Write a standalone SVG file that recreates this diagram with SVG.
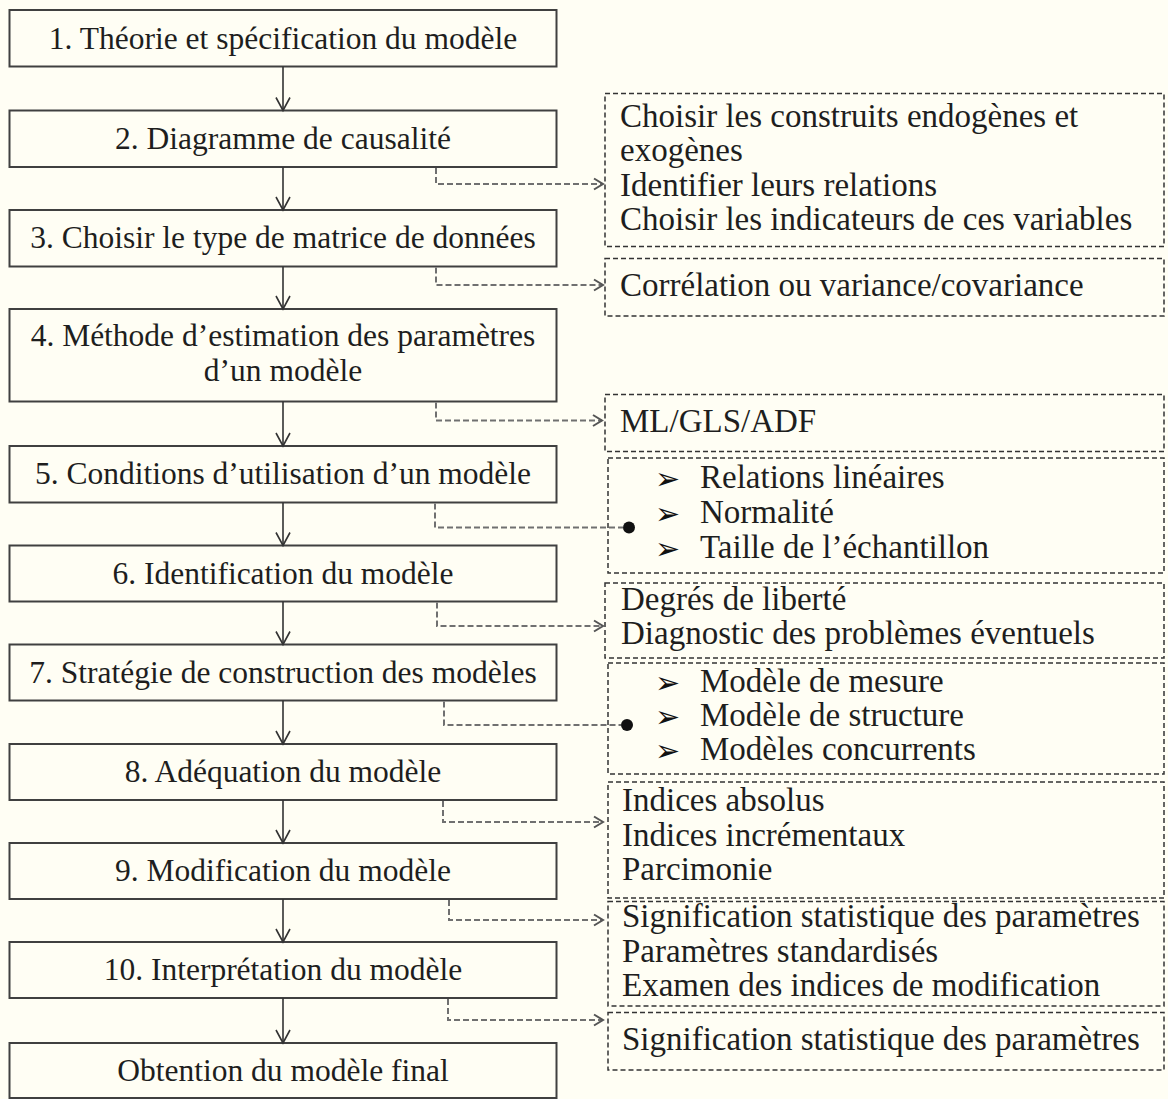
<svg xmlns="http://www.w3.org/2000/svg" width="1168" height="1099" viewBox="0 0 1168 1099">
<style>
.bg{fill:#FFFEF4}
.box rect{fill:#FFFEF4;stroke:#404040;stroke-width:2}
.note rect{fill:#FFFEF4;stroke:#333;stroke-width:1.5;stroke-dasharray:5 3}
.lt{font-family:"Liberation Serif","Times New Roman",serif;font-size:31.5px;fill:#1e1e1e;text-anchor:middle}
.rt{font-family:"Liberation Serif","Times New Roman",serif;font-size:33px;fill:#1e1e1e}
.bul{font-family:"DejaVu Sans",sans-serif;font-size:30px;fill:#111}
.solid{fill:none;stroke:#333;stroke-width:1.6;marker-end:url(#vhead)}
.dash{fill:none;stroke:#707070;stroke-width:2;stroke-dasharray:6 3}
.dasharrow{marker-end:url(#dhead)}
.dot{fill:#111}
</style>
<defs>
<marker id="vhead" markerUnits="userSpaceOnUse" orient="auto" refX="0" refY="0" markerWidth="30" markerHeight="30" overflow="visible">
<path d="M-13,-7 L0,0 L-13,7" fill="none" stroke="#333" stroke-width="1.6"/>
</marker>
<marker id="dhead" markerUnits="userSpaceOnUse" orient="auto" refX="0" refY="0" markerWidth="30" markerHeight="30" overflow="visible">
<path d="M-9,-5.5 L0,0 L-9,5.5" fill="none" stroke="#555" stroke-width="2"/>
</marker>
</defs>
<rect class="bg" x="0" y="0" width="1168" height="1099"/>

<g id="step1" class="box"><rect x="9.5" y="10" width="547" height="56.5"/><text class="lt" x="283" y="48.5">1. Théorie et spécification du modèle</text></g>
<g id="step2" class="box"><rect x="9.5" y="110.5" width="547" height="56.5"/><text class="lt" x="283" y="148.5">2. Diagramme de causalité</text></g>
<g id="step3" class="box"><rect x="9.5" y="210" width="547" height="56.5"/><text class="lt" x="283" y="248">3. Choisir le type de matrice de données</text></g>
<g id="step4" class="box"><rect x="9.5" y="309" width="547" height="92.5"/><text class="lt" x="283" y="346">4. Méthode d’estimation des paramètres</text><text class="lt" x="283" y="381">d’un modèle</text></g>
<g id="step5" class="box"><rect x="9.5" y="446" width="547" height="56.5"/><text class="lt" x="283" y="484">5. Conditions d’utilisation d’un modèle</text></g>
<g id="step6" class="box"><rect x="9.5" y="545.5" width="547" height="56"/><text class="lt" x="283" y="583.5">6. Identification du modèle</text></g>
<g id="step7" class="box"><rect x="9.5" y="644.5" width="547" height="56"/><text class="lt" x="283" y="682.5">7. Stratégie de construction des modèles</text></g>
<g id="step8" class="box"><rect x="9.5" y="744" width="547" height="56"/><text class="lt" x="283" y="782">8. Adéquation du modèle</text></g>
<g id="step9" class="box"><rect x="9.5" y="843" width="547" height="56"/><text class="lt" x="283" y="881">9. Modification du modèle</text></g>
<g id="step10" class="box"><rect x="9.5" y="942" width="547" height="56"/><text class="lt" x="283" y="980">10. Interprétation du modèle</text></g>
<g id="final" class="box"><rect x="9.5" y="1043" width="547" height="55"/><text class="lt" x="283" y="1081">Obtention du modèle final</text></g>

<g id="noteA" class="note"><rect x="605" y="93.5" width="559" height="153"/>
<text class="rt" x="620" y="126.5">Choisir les construits endogènes et</text>
<text class="rt" x="620" y="161">exogènes</text>
<text class="rt" x="620" y="195.5">Identifier leurs relations</text>
<text class="rt" x="620" y="230">Choisir les indicateurs de ces variables</text></g>
<g id="noteB" class="note"><rect x="605" y="258.5" width="559" height="57.5"/>
<text class="rt" x="620" y="296">Corrélation ou variance/covariance</text></g>
<g id="noteC" class="note"><rect x="605" y="394.5" width="559" height="57"/>
<text class="rt" x="620" y="432">ML/GLS/ADF</text></g>
<g id="noteD" class="note"><rect x="608" y="458" width="556" height="115"/>
<text class="bul" x="655" y="489">➢</text><text class="rt" x="700" y="488">Relations linéaires</text>
<text class="bul" x="655" y="524">➢</text><text class="rt" x="700" y="523">Normalité</text>
<text class="bul" x="655" y="559">➢</text><text class="rt" x="700" y="558">Taille de l’échantillon</text></g>
<g id="noteE" class="note"><rect x="605" y="583" width="559" height="75"/>
<text class="rt" x="621" y="610">Degrés de liberté</text>
<text class="rt" x="621" y="644">Diagnostic des problèmes éventuels</text></g>
<g id="noteF" class="note"><rect x="608" y="663" width="556" height="111"/>
<text class="bul" x="655" y="693">➢</text><text class="rt" x="700" y="692">Modèle de mesure</text>
<text class="bul" x="655" y="727">➢</text><text class="rt" x="700" y="726">Modèle de structure</text>
<text class="bul" x="655" y="761">➢</text><text class="rt" x="700" y="760">Modèles concurrents</text></g>
<g id="noteG" class="note"><rect x="608" y="782" width="556" height="116"/>
<text class="rt" x="622" y="811">Indices absolus</text>
<text class="rt" x="622" y="846">Indices incrémentaux</text>
<text class="rt" x="622" y="880">Parcimonie</text></g>
<g id="noteH" class="note"><rect x="608" y="901.5" width="556" height="104.5"/>
<text class="rt" x="622" y="927">Signification statistique des paramètres</text>
<text class="rt" x="622" y="961.5">Paramètres standardisés</text>
<text class="rt" x="622" y="996">Examen des indices de modification</text></g>
<g id="noteI" class="note"><rect x="608" y="1012.5" width="556" height="57.5"/>
<text class="rt" x="622" y="1050">Signification statistique des paramètres</text></g>

<g id="connectors">
<path class="solid" d="M283 66.5 V110.5"/>
<path class="solid" d="M283 167 V210"/>
<path class="solid" d="M283 266.5 V309"/>
<path class="solid" d="M283 401.5 V446"/>
<path class="solid" d="M283 502.5 V545.5"/>
<path class="solid" d="M283 601.5 V644.5"/>
<path class="solid" d="M283 700.5 V744"/>
<path class="solid" d="M283 800 V843"/>
<path class="solid" d="M283 899 V942"/>
<path class="solid" d="M283 998 V1043"/>
<path class="dash dasharrow" d="M436 168 V184 H603"/>
<path class="dash dasharrow" d="M436 267.5 V285 H603"/>
<path class="dash dasharrow" d="M436 402.5 V420.5 H602"/>
<path class="dash" d="M435 503.5 V527.5 H623"/>
<circle class="dot" cx="629" cy="527.5" r="6"/>
<path class="dash dasharrow" d="M437 602.5 V626 H603"/>
<path class="dash" d="M444 701.5 V725 H621"/>
<circle class="dot" cx="627" cy="725" r="6"/>
<path class="dash dasharrow" d="M443 801 V822 H603"/>
<path class="dash dasharrow" d="M449 900 V920 H603"/>
<path class="dash dasharrow" d="M448 999 V1020 H603"/>
</g>
</svg>
